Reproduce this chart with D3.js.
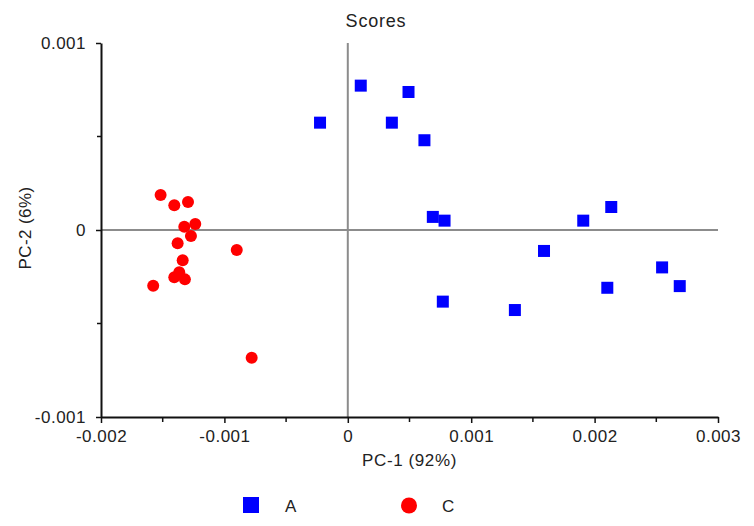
<!DOCTYPE html>
<html>
<head>
<meta charset="utf-8">
<script src="https://cdn.jsdelivr.net/npm/d3@7"></script>
<style>
  body { margin: 0; background: #fff; }
  svg { display: block; font-family: "Liberation Sans", Arial, sans-serif; }
  text { fill: #222; }
</style>
</head>
<body>
<div id="chart"></div>
<script>
const WIDTH = 754;
const HEIGHT = 526;
const MARGIN = { top: 43, right: 36, bottom: 109, left: 101 };

const X_DOMAIN = [-0.002, 0.003];
const Y_DOMAIN = [-0.001, 0.001];
const X_TICKS = [-0.002, -0.001, 0, 0.001, 0.002, 0.003];
const Y_TICKS = [-0.001, 0, 0.001];
const X_MINOR = [-0.0015, -0.0005, 0.0005, 0.0015, 0.0025];
const Y_MINOR = [-0.0005, 0.0005];

const TITLE = "Scores";
const X_LABEL = "PC-1 (92%)";
const Y_LABEL = "PC-2 (6%)";
const GROUPS = ["A", "C"];

// group A (blue squares)
const A_PC1 = [-0.000225, 0.000105, 0.000492, 0.000357, 0.000621, 0.000689, 0.000784,
  0.001908, 0.002135, 0.00159, 0.002547, 0.00269, 0.002103, 0.00077, 0.001354];
const A_PC2 = [0.000574, 0.000772, 0.000738, 0.000574, 0.00048, 0.00007, 0.00005,
  0.00005, 0.000123, -0.000112, -0.0002, -0.0003, -0.000309, -0.000383, -0.000428];

// group C (red circles)
const C_PC1 = [-0.001517, -0.001406, -0.001295, -0.001325, -0.001236, -0.001271, -0.001379,
  -0.0009, -0.001338, -0.001366, -0.001406, -0.00132, -0.001577, -0.000779];
const C_PC2 = [0.000187, 0.000132, 0.00015, 0.000018, 0.000032, -0.000032, -0.000071,
  -0.000107, -0.000162, -0.000226, -0.000253, -0.000264, -0.000298, -0.000683];

const FONT = 17;

const x = d3.scaleLinear().domain(X_DOMAIN).range([MARGIN.left, WIDTH - MARGIN.right]);
const y = d3.scaleLinear().domain(Y_DOMAIN).range([HEIGHT - MARGIN.bottom, MARGIN.top]);

const fmt = d => (d === 0 ? "0" : d3.format(".3f")(d).replace("−", "-"));

const svg = d3.select("#chart")
  .append("svg")
  .attr("width", WIDTH)
  .attr("height", HEIGHT)
  .attr("viewBox", [0, 0, WIDTH, HEIGHT]);

// zero lines
svg.append("line")
  .attr("x1", x(0)).attr("x2", x(0))
  .attr("y1", y(Y_DOMAIN[1])).attr("y2", y(Y_DOMAIN[0]))
  .attr("stroke", "#8c8c8c").attr("stroke-width", 2);
svg.append("line")
  .attr("x1", x(X_DOMAIN[0])).attr("x2", x(X_DOMAIN[1]))
  .attr("y1", y(0)).attr("y2", y(0))
  .attr("stroke", "#8c8c8c").attr("stroke-width", 2);

// axes
const xAxis = g => g
  .attr("transform", `translate(0, ${y(Y_DOMAIN[0])})`)
  .call(d3.axisBottom(x).tickValues(X_TICKS).tickFormat(fmt).tickSize(6).tickSizeOuter(0).tickPadding(7));
const yAxis = g => g
  .attr("transform", `translate(${x(X_DOMAIN[0])}, 0)`)
  .call(d3.axisLeft(y).tickValues(Y_TICKS).tickFormat(fmt).tickSize(5).tickSizeOuter(0).tickPadding(10));

const styleAxis = g => {
  g.attr("font-family", null);
  g.select(".domain").attr("stroke", "#111").attr("stroke-width", 2);
  g.selectAll(".tick line").attr("stroke", "#111").attr("stroke-width", 1.5);
  g.selectAll(".tick text")
    .attr("font-size", FONT)
    .attr("letter-spacing", 0.5)
    .attr("fill", "#222");
};

svg.append("g").call(xAxis).call(styleAxis);
svg.append("g").call(yAxis).call(styleAxis);

// minor ticks
svg.append("g")
  .selectAll("line")
  .data(X_MINOR)
  .join("line")
  .attr("x1", d => x(d)).attr("x2", d => x(d))
  .attr("y1", y(Y_DOMAIN[0])).attr("y2", y(Y_DOMAIN[0]) + 5)
  .attr("stroke", "#111").attr("stroke-width", 1.5);
svg.append("g")
  .selectAll("line")
  .data(Y_MINOR)
  .join("line")
  .attr("x1", x(X_DOMAIN[0]) - 4).attr("x2", x(X_DOMAIN[0]))
  .attr("y1", d => y(d)).attr("y2", d => y(d))
  .attr("stroke", "#111").attr("stroke-width", 1.5);

// points
const SQ = 12;
svg.append("g")
  .selectAll("rect")
  .data(d3.zip(A_PC1, A_PC2))
  .join("rect")
  .attr("x", d => x(d[0]) - SQ / 2)
  .attr("y", d => y(d[1]) - SQ / 2)
  .attr("width", SQ)
  .attr("height", SQ)
  .attr("fill", "#0000ff");

svg.append("g")
  .selectAll("circle")
  .data(d3.zip(C_PC1, C_PC2))
  .join("circle")
  .attr("cx", d => x(d[0]))
  .attr("cy", d => y(d[1]))
  .attr("r", 6)
  .attr("fill", "#ff0000");

// title and labels
svg.append("text")
  .attr("x", 376).attr("y", 27)
  .attr("text-anchor", "middle")
  .attr("font-size", 18)
  .attr("letter-spacing", 0.8)
  .text(TITLE);

svg.append("text")
  .attr("x", (x.range()[0] + x.range()[1]) / 2).attr("y", 466)
  .attr("text-anchor", "middle")
  .attr("font-size", FONT)
  .attr("letter-spacing", 0.6)
  .text(X_LABEL);

svg.append("text")
  .attr("transform", `translate(31, ${y(0) - 2}) rotate(-90)`)
  .attr("text-anchor", "middle")
  .attr("font-size", FONT)
  .attr("letter-spacing", 0.4)
  .text(Y_LABEL);

// legend
const legend = svg.append("g");
legend.append("rect")
  .attr("x", 243).attr("y", 497).attr("width", 16).attr("height", 16)
  .attr("fill", "#0000ff");
legend.append("text")
  .attr("x", 285).attr("y", 511.5)
  .attr("font-size", FONT)
  .text(GROUPS[0]);
legend.append("circle")
  .attr("cx", 409).attr("cy", 505.5).attr("r", 8)
  .attr("fill", "#ff0000");
legend.append("text")
  .attr("x", 442).attr("y", 511.5)
  .attr("font-size", FONT)
  .text(GROUPS[1]);
</script>
</body>
</html>
